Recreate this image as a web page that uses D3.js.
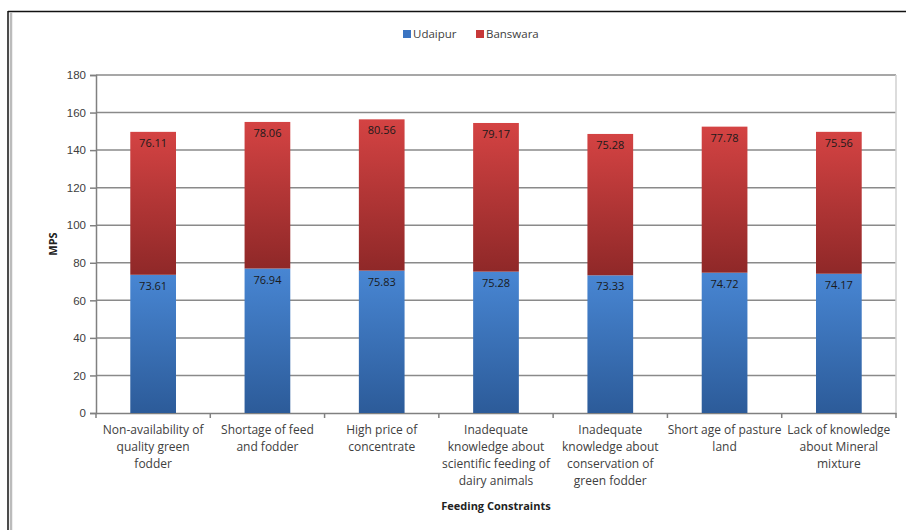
<!DOCTYPE html>
<html><head><meta charset="utf-8">
<script src="https://cdn.jsdelivr.net/npm/d3@7"></script>
<style>body{margin:0;background:#fff}svg{display:block;font-family:"Open Sans",sans-serif}</style>
</head><body><svg id="c" width="906" height="530"></svg>
<script>
const categories = [
  ["Non-availability of","quality green","fodder"],
  ["Shortage of feed","and fodder"],
  ["High price of","concentrate"],
  ["Inadequate","knowledge about","scientific feeding of","dairy animals"],
  ["Inadequate","knowledge about","conservation of","green fodder"],
  ["Short age of pasture","land"],
  ["Lack of knowledge","about Mineral","mixture"]
];
const udaipur = [73.61, 76.94, 75.83, 75.28, 73.33, 74.72, 74.17];
const banswara = [76.11, 78.06, 80.56, 79.17, 75.28, 77.78, 75.56];
const seriesNames = ["Udaipur", "Banswara"];
const yTicks = [0,20,40,60,80,100,120,140,160,180];

const svg = d3.select("#c");
const L = 96, R = 896, T = 75, B = 413;

// frame
svg.append("line").attr("x1",8).attr("x2",906).attr("y1",11.5).attr("y2",11.5).attr("stroke","#111").attr("stroke-width",1.5);
svg.append("line").attr("x1",8).attr("x2",8).attr("y1",11).attr("y2",530).attr("stroke","#111").attr("stroke-width",1.5);
svg.append("line").attr("x1",11).attr("x2",11).attr("y1",12).attr("y2",530).attr("stroke","#bbb").attr("stroke-width",2.5);

const defs = svg.append("defs");
function grad(id, c1, c2){
  const g = defs.append("linearGradient").attr("id",id).attr("x1",0).attr("x2",0).attr("y1",0).attr("y2",1);
  g.append("stop").attr("offset","0%").attr("stop-color",c1);
  g.append("stop").attr("offset","100%").attr("stop-color",c2);
}
grad("gb","#4886d3","#2c5b99");
grad("gr","#d44343","#8f2828");

const x = d3.scaleBand().domain(d3.range(categories.length)).range([L,R]).paddingInner(0.6).paddingOuter(0.3);
const xb = d3.scaleBand().domain(d3.range(categories.length)).range([L,R]);
const y = d3.scaleLinear().domain([0,180]).range([B,T]);

// gridlines
svg.append("g").selectAll("line").data(yTicks.filter(d=>d>0)).join("line")
  .attr("x1",L).attr("x2",R).attr("y1",d=>y(d)).attr("y2",d=>y(d))
  .attr("stroke","#8a8a8a").attr("stroke-width",1.5);
svg.append("line").attr("x1",R).attr("x2",R).attr("y1",T).attr("y2",B).attr("stroke","#d0d0d0").attr("stroke-width",1.5);

// y axis
const ya = svg.append("g").attr("transform",`translate(${L},0)`)
  .call(d3.axisLeft(y).tickValues(yTicks).tickSize(6).tickPadding(4));
ya.select(".domain").attr("stroke","#808080").attr("stroke-width",1.5);
ya.selectAll(".tick line").attr("stroke","#808080").attr("stroke-width",1.5);
ya.selectAll("text").attr("fill","#404040").attr("font-size","11.5px");

// x axis
const xa = svg.append("g").attr("transform",`translate(0,${B})`)
  .call(d3.axisBottom(xb).tickSize(0).tickFormat(""));
xa.select(".domain").attr("stroke","#808080").attr("stroke-width",1.5);
svg.append("g").selectAll("line").data(d3.range(categories.length+1)).join("line")
  .attr("x1",d=>L+d*xb.step()).attr("x2",d=>L+d*xb.step())
  .attr("y1",B).attr("y2",B+5).attr("stroke","#808080").attr("stroke-width",1.5);

// x labels
categories.forEach((lines,i)=>{
  const t = svg.append("text").attr("text-anchor","middle").attr("fill","#404040").attr("font-size","12px");
  lines.forEach((s,j)=>t.append("tspan").attr("x",xb(i)+xb.bandwidth()/2).attr("y",434+j*17).text(s));
});

// bars
const bars = svg.append("g");
bars.selectAll("rect.u").data(udaipur).join("rect").attr("class","u")
  .attr("x",(d,i)=>x(i)).attr("width",x.bandwidth())
  .attr("y",d=>y(d)).attr("height",d=>B-y(d)).attr("fill","url(#gb)");
bars.selectAll("rect.b").data(banswara).join("rect").attr("class","b")
  .attr("x",(d,i)=>x(i)).attr("width",x.bandwidth())
  .attr("y",(d,i)=>y(d+udaipur[i])).attr("height",(d,i)=>y(udaipur[i])-y(d+udaipur[i])).attr("fill","url(#gr)");

// value labels
bars.selectAll("text.u").data(udaipur).join("text")
  .attr("x",(d,i)=>x(i)+x.bandwidth()/2).attr("y",d=>y(d)+15)
  .attr("text-anchor","middle").attr("font-size","11px").attr("fill","#1a1a1a").text(d=>d.toFixed(2));
bars.selectAll("text.b").data(banswara).join("text")
  .attr("x",(d,i)=>x(i)+x.bandwidth()/2).attr("y",(d,i)=>y(d+udaipur[i])+15)
  .attr("text-anchor","middle").attr("font-size","11px").attr("fill","#1a1a1a").text(d=>d.toFixed(2));

// axis titles
svg.append("text").attr("transform",`translate(57,${(T+B)/2}) rotate(-90)`).attr("text-anchor","middle")
  .attr("font-size","11px").attr("font-weight","bold").attr("fill","#222").text("MPS");
svg.append("text").attr("x",(L+R)/2).attr("y",510).attr("text-anchor","middle")
  .attr("font-size","11px").attr("font-weight","bold").attr("fill","#222").text("Feeding Constraints");

// legend
const leg = [{n:seriesNames[0],c:"#3b74c2",x:403},{n:seriesNames[1],c:"#c73838",x:476}];
leg.forEach(l=>{
  svg.append("rect").attr("x",l.x).attr("y",30).attr("width",8).attr("height",8).attr("fill",l.c);
  svg.append("text").attr("x",l.x+10).attr("y",38).attr("font-size","11.5px").attr("fill","#404040").text(l.n);
});
</script></body></html>
